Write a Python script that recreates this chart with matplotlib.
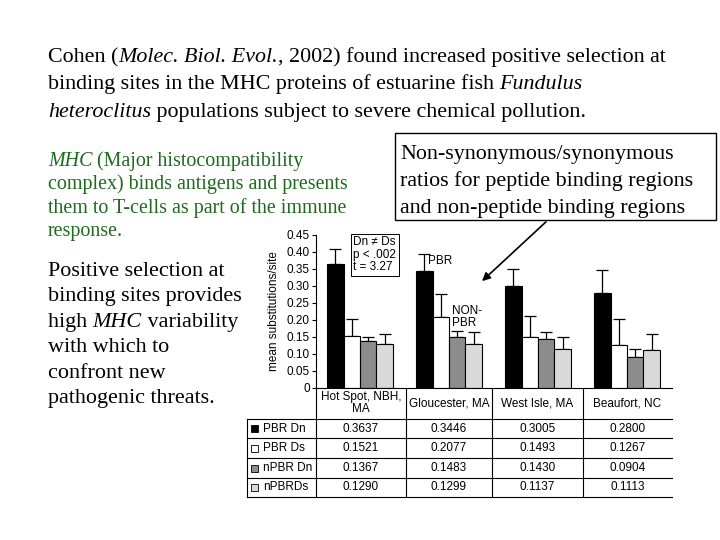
import matplotlib
matplotlib.use("Agg")
import matplotlib.pyplot as plt
import numpy as np

SERIF = "Liberation Serif"
SANS = "Liberation Sans"

# data
sites = ["Hot Spot, NBH,\nMA", "Gloucester, MA", "West Isle, MA", "Beaufort, NC"]
series = ["PBR Dn", "PBR Ds", "nPBR Dn", "nPBRDs"]
colors = ["#000000", "#ffffff", "#8c8c8c", "#d9d9d9"]
pbr_dn = [0.3637, 0.3446, 0.3005, 0.2800]
pbr_ds = [0.1521, 0.2077, 0.1493, 0.1267]
npbr_dn = [0.1367, 0.1483, 0.1430, 0.0904]
npbr_ds = [0.1290, 0.1299, 0.1137, 0.1113]
# upper error bars (estimated)
err_pbr_dn = [0.044, 0.050, 0.050, 0.068]
err_pbr_ds = [0.050, 0.067, 0.062, 0.077]
err_npbr_dn = [0.014, 0.018, 0.020, 0.024]
err_npbr_ds = [0.029, 0.033, 0.036, 0.046]

values = [pbr_dn, pbr_ds, npbr_dn, npbr_ds]
errors = [err_pbr_dn, err_pbr_ds, err_npbr_dn, err_npbr_ds]
yticks = [0, 0.05, 0.10, 0.15, 0.20, 0.25, 0.30, 0.35, 0.40, 0.45]
ytick_labels = ["0", "0.05", "0.10", "0.15", "0.20", "0.25", "0.30", "0.35", "0.40", "0.45"]

W, H = 720, 540
FS = 8.5  # chart font size
fig = plt.figure(figsize=(7.2, 5.4), dpi=100)
fig.patch.set_facecolor("white")

# bar chart axes placed in pixel position
x0, x1, y0, y1 = 316, 672, 387.7, 235
ax = fig.add_axes([x0 / W, 1 - y0 / H, (x1 - x0) / W, (y0 - y1) / H])
ax.patch.set_visible(False)
bw = 0.185
start = 0.124
xs = np.arange(len(sites))
for k in range(len(series)):
    pos = xs + start + bw * k + bw / 2
    ax.bar(pos, values[k], width=bw, color=colors[k], edgecolor="black", linewidth=0.8, zorder=2)
    ax.errorbar(pos, values[k], yerr=[np.zeros(len(sites)), errors[k]], fmt="none",
                ecolor="black", elinewidth=0.9, capsize=4.5, capthick=0.9, zorder=1)
ax.set_xlim(0, len(sites))
ax.set_ylim(0, 0.45)
ax.set_xticks([])
ax.set_yticks(yticks)
ax.set_yticklabels(ytick_labels, fontfamily=SANS, fontsize=FS)
ax.tick_params(axis="y", direction="out", length=3, width=0.8, pad=1.5)
for s in ["top", "right"]:
    ax.spines[s].set_visible(False)
ax.spines["left"].set_linewidth(0.8)
ax.spines["bottom"].set_linewidth(0.8)
ax.set_ylabel("mean substitutions/site", fontfamily=SANS, fontsize=FS, labelpad=5)

ax.text(0.42, 0.446, "Dn \u2260 Ds\np < .002\nt = 3.27", ha="left", va="top",
        fontfamily=SANS, fontsize=FS, linespacing=1.05,
        bbox=dict(boxstyle="square,pad=0.2", facecolor="white", edgecolor="black", linewidth=0.7))
ax.text(1.26, 0.372, "PBR", ha="left", va="center", fontfamily=SANS, fontsize=FS)
ax.text(1.528, 0.208, "NON-\nPBR", ha="left", va="center", fontfamily=SANS, fontsize=FS, linespacing=1.0)

# overlay in pixel coordinates for the slide text and the table
ov = fig.add_axes([0, 0, 1, 1], zorder=5)
ov.set_xlim(0, W)
ov.set_ylim(H, 0)
ov.axis("off")
ov.patch.set_visible(False)
renderer = fig.canvas.get_renderer()


def text_width(s, **kw):
    # width including spaces: measure between two guard characters
    a = ov.text(0, 0, "x" + s + "x", **kw)
    b = ov.text(0, 0, "xx", **kw)
    w = a.get_window_extent(renderer).width - b.get_window_extent(renderer).width
    a.remove()
    b.remove()
    return w


def rich_line(x, y, segs, **kw):
    # segs: list of (text, italic)
    for txt, it in segs:
        style = "italic" if it else "normal"
        ov.text(x, y, txt, ha="left", va="baseline", style=style, **kw)
        x += text_width(txt, style=style, **kw)


# table under the chart
col_edges = [316, 405.7, 492, 582.7, 672]
row_edges = [419, 438, 458, 478, 497]
lw = 0.8
for xe in col_edges[:-1]:
    ov.plot([xe, xe], [y0, row_edges[-1]], color="black", lw=lw)
ov.plot([247, 247], [row_edges[0], row_edges[-1]], color="black", lw=lw)
for ye in row_edges:
    ov.plot([247, 672], [ye, ye], color="black", lw=lw)
for j, name in enumerate(sites):
    cx = (col_edges[j] + col_edges[j + 1]) / 2
    ov.text(cx, 403, name, ha="center", va="center", fontfamily=SANS, fontsize=FS, linespacing=1.1)
for i, name in enumerate(series):
    cy = (row_edges[i] + row_edges[i + 1]) / 2
    ov.add_patch(plt.Rectangle((251, cy - 3.5), 7, 7, facecolor=colors[i], edgecolor="black", lw=0.6))
    ov.text(263, cy, name, ha="left", va="center", fontfamily=SANS, fontsize=FS)
    for j in range(len(sites)):
        cx = (col_edges[j] + col_edges[j + 1]) / 2
        ov.text(cx, cy, "%.4f" % values[i][j], ha="center", va="center", fontfamily=SANS, fontsize=FS)

# slide text
title_lines = [
    [("Cohen (", False), ("Molec. Biol. Evol.", True), (", 2002) found increased positive selection at", False)],
    [("binding sites in the MHC proteins of estuarine fish ", False), ("Fundulus", True)],
    [("heteroclitus", True), (" populations subject to severe chemical pollution.", False)],
]
for i, segs in enumerate(title_lines):
    rich_line(48, 62 + 27.4 * i, segs, fontsize=15.8, fontfamily=SERIF)

green = "#1e6b1e"
mhc_lines = [
    [("MHC", True), (" (Major histocompatibility", False)],
    [("complex) binds antigens and presents", False)],
    [("them to T-cells as part of the immune", False)],
    [("response.", False)],
]
for i, segs in enumerate(mhc_lines):
    rich_line(48, 166 + 23.4 * i, segs, fontsize=14.4, fontfamily=SERIF, color=green)

pos_lines = [
    [("Positive selection at", False)],
    [("binding sites provides", False)],
    [("high ", False), ("MHC", True), (" variability", False)],
    [("with which to", False)],
    [("confront new", False)],
    [("pathogenic threats.", False)],
]
for i, segs in enumerate(pos_lines):
    rich_line(48, 276 + 25.45 * i, segs, fontsize=15.9, fontfamily=SERIF)

# callout box with arrow
ov.add_patch(plt.Rectangle((395, 133), 321, 87, facecolor="white", edgecolor="black", lw=1.0, zorder=4))
box_lines = [
    "Non-synonymous/synonymous",
    "ratios for peptide binding regions",
    "and non-peptide binding regions",
]
for i, line in enumerate(box_lines):
    ov.text(400, 158.5 + 27.2 * i, line, ha="left", va="baseline", fontsize=15.8, fontfamily=SERIF, zorder=5)
ov.annotate("", xy=(480, 283), xytext=(548, 220),
            arrowprops=dict(arrowstyle="-|>", color="black", lw=1.2, mutation_scale=12))

fig.savefig("out.png", dpi=100)
